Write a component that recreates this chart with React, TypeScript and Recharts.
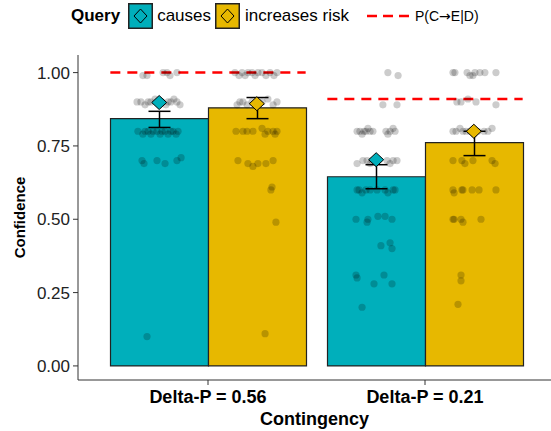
import { ComposedChart, Bar, XAxis, YAxis, Scatter, ErrorBar, ReferenceLine } from "recharts"

const contingencies = ["Delta-P = 0.56", "Delta-P = 0.21"]
const causesMean = [0.843, 0.645]
const causesLow = [0.813, 0.604]
const causesHigh = [0.868, 0.686]
const riskMean = [0.88, 0.761]
const riskLow = [0.843, 0.717]
const riskHigh = [0.915, 0.8]
const causesMarker = [0.898, 0.703]
const riskMarker = [0.894, 0.8]
const pCED = [1.0, 0.91]
const yTicks = [0, 0.25, 0.5, 0.75, 1]

// x position of each contingency on the hidden numeric axis, and the dodge offset
const groupPos = [1, 2]
const dodge = 0.225

// individual responses, jittered: [x on numeric axis, confidence]
const causesPts: number[][] = [
  [0.7, 0.99], [0.719, 0.99], [0.793, 1.0], [0.811, 1.0], [0.825, 0.99], [0.857, 1.0],
  [0.673, 0.9], [0.691, 0.9], [0.71, 0.89], [0.724, 0.9], [0.737, 0.9], [0.756, 0.91], [0.77, 0.9],
  [0.788, 0.9], [0.806, 0.89], [0.816, 0.9], [0.829, 0.9], [0.843, 0.91], [0.857, 0.9], [0.871, 0.89],
  [0.677, 0.8], [0.7, 0.79], [0.71, 0.8], [0.724, 0.8], [0.737, 0.79], [0.747, 0.8], [0.765, 0.8],
  [0.779, 0.79], [0.788, 0.8], [0.802, 0.8], [0.816, 0.79], [0.829, 0.8], [0.839, 0.8], [0.853, 0.79], [0.862, 0.8],
  [0.696, 0.7], [0.705, 0.69], [0.765, 0.7], [0.802, 0.69], [0.857, 0.7], [0.876, 0.71],
  [0.719, 0.1],
  [1.829, 1.0], [1.876, 0.99],
  [1.806, 0.89], [1.871, 0.89],
  [1.687, 0.8], [1.7, 0.8], [1.71, 0.79], [1.719, 0.8], [1.728, 0.8], [1.737, 0.81], [1.747, 0.8],
  [1.76, 0.8], [1.82, 0.8], [1.829, 0.79], [1.839, 0.8], [1.853, 0.81], [1.862, 0.8],
  [1.687, 0.69], [1.714, 0.7], [1.733, 0.7], [1.747, 0.69], [1.756, 0.7], [1.825, 0.7], [1.839, 0.69], [1.853, 0.7], [1.871, 0.7],
  [1.687, 0.6], [1.696, 0.6], [1.71, 0.59], [1.728, 0.6], [1.747, 0.6], [1.779, 0.6], [1.816, 0.6], [1.829, 0.59], [1.853, 0.6], [1.862, 0.6],
  [1.682, 0.5], [1.733, 0.49], [1.737, 0.5], [1.783, 0.51], [1.816, 0.51], [1.848, 0.5],
  [1.797, 0.41], [1.839, 0.42], [1.848, 0.4],
  [1.682, 0.31], [1.687, 0.3], [1.765, 0.28], [1.811, 0.31], [1.848, 0.28],
  [1.71, 0.2],
]

const riskPts: number[][] = [
  [1.124, 1.0], [1.143, 0.99], [1.157, 1.0], [1.171, 0.99], [1.184, 1.0], [1.203, 1.0], [1.217, 0.99],
  [1.23, 1.0], [1.249, 1.0], [1.267, 0.99], [1.286, 1.0], [1.304, 0.99], [1.318, 1.0],
  [1.134, 0.89], [1.147, 0.9], [1.161, 0.9], [1.18, 0.89], [1.203, 0.9], [1.249, 0.9], [1.276, 0.91], [1.3, 0.89], [1.318, 0.9],
  [1.129, 0.8], [1.161, 0.8], [1.18, 0.8], [1.207, 0.8], [1.249, 0.81], [1.263, 0.79], [1.276, 0.8], [1.3, 0.8], [1.309, 0.79], [1.318, 0.8],
  [1.138, 0.7], [1.184, 0.69], [1.207, 0.68], [1.23, 0.69], [1.267, 0.69], [1.3, 0.7],
  [1.295, 0.61], [1.29, 0.6], [1.313, 0.49], [1.263, 0.11],
  [2.129, 1.0], [2.138, 1.0], [2.194, 1.0], [2.207, 0.99], [2.221, 0.99], [2.23, 1.0], [2.253, 1.0], [2.276, 1.0], [2.327, 1.0],
  [2.147, 0.9], [2.166, 0.9], [2.198, 0.91], [2.235, 0.9], [2.327, 0.89],
  [2.129, 0.8], [2.143, 0.8], [2.161, 0.81], [2.175, 0.8], [2.189, 0.8], [2.207, 0.8], [2.226, 0.79], [2.244, 0.8], [2.272, 0.8], [2.29, 0.8], [2.309, 0.81],
  [2.129, 0.7], [2.17, 0.7], [2.184, 0.69], [2.221, 0.7], [2.309, 0.7], [2.323, 0.69],
  [2.129, 0.6], [2.134, 0.59], [2.17, 0.6], [2.175, 0.6], [2.217, 0.6], [2.249, 0.6], [2.327, 0.6],
  [2.129, 0.5], [2.134, 0.5], [2.166, 0.5], [2.175, 0.49], [2.258, 0.5],
  [2.166, 0.31], [2.166, 0.29],
  [2.152, 0.21],
]

const TEAL = "#00AFBB"
const GOLD = "#E7B800"
const FONT = "'Liberation Sans', Arial, Helvetica, sans-serif"

const barData = contingencies.map((c, i) => ({
  contingency: c,
  causes: causesMean[i],
  causesErr: [causesMean[i] - causesLow[i], causesHigh[i] - causesMean[i]],
  risk: riskMean[i],
  riskErr: [riskMean[i] - riskLow[i], riskHigh[i] - riskMean[i]],
}))

const causesDots = causesPts.map(([x, y]) => ({ x, y }))
const riskDots = riskPts.map(([x, y]) => ({ x, y }))
const causesDiamonds = groupPos.map((g, i) => ({ x: g - dodge, y: causesMarker[i] }))
const riskDiamonds = groupPos.map((g, i) => ({ x: g + dodge, y: riskMarker[i] }))

const Dot = (props: any) => <circle cx={props.cx} cy={props.cy} r={3.6} fill="#000" fillOpacity={0.2} />

const makeDiamond = (fill: string) => (props: any) => {
  const { cx, cy } = props
  return (
    <polygon
      points={`${cx},${cy - 7} ${cx + 7.5},${cy} ${cx},${cy + 7} ${cx - 7.5},${cy}`}
      fill={fill}
      stroke="#000"
      strokeWidth={1}
    />
  )
}

function YTitle({ viewBox }: any) {
  const cx = (viewBox?.x ?? 0) + 19
  const cy = (viewBox?.y ?? 55) + (viewBox?.height ?? 325) / 2
  return (
    <text x={cx} y={cy} transform={`rotate(-90 ${cx} ${cy})`} textAnchor="middle" dominantBaseline="central"
      fontFamily={FONT} fontWeight="bold" fontSize={15} fill="#000">
      Confidence
    </text>
  )
}

function XTitle({ viewBox }: any) {
  const cx = (viewBox?.x ?? 78) + (viewBox?.width ?? 473) / 2
  const cy = (viewBox?.y ?? 380) + 39
  return (
    <text x={cx} y={cy} textAnchor="middle" dominantBaseline="central"
      fontFamily={FONT} fontWeight="bold" fontSize={18} fill="#000">
      Contingency
    </text>
  )
}

function KeyBox({ fill }: { fill: string }) {
  return (
    <svg width={25} height={26} style={{ display: "block" }}>
      <rect x={0.75} y={0.75} width={23.5} height={24.5} fill={fill} stroke="#222" strokeWidth={1.5} />
      <polygon points="12.5,6 19,13 12.5,20 6,13" fill={fill} stroke="#000" strokeWidth={1} />
    </svg>
  )
}

function LegendBar() {
  return (
    <div style={{ position: "absolute", left: 0, top: 3, height: 26, display: "flex", alignItems: "center",
      paddingLeft: 71, fontFamily: FONT, color: "#000", whiteSpace: "nowrap" }}>
      <span style={{ fontWeight: "bold", fontSize: 17, marginRight: 8 }}>Query</span>
      <KeyBox fill={TEAL} />
      <span style={{ fontSize: 17, margin: "0 4px" }}>causes</span>
      <KeyBox fill={GOLD} />
      <span style={{ fontSize: 17, marginLeft: 5, marginRight: 18 }}>increases risk</span>
      <svg width={42} height={6} style={{ display: "block" }}>
        <line x1={0} y1={3} x2={42} y2={3} stroke="#FF0000" strokeWidth={2.5} strokeDasharray="10 6" />
      </svg>
      <span style={{ fontSize: 14, marginLeft: 6 }}>
        P(C<span style={{ fontFamily: "'DejaVu Sans', sans-serif", fontSize: 14 }}>→</span>E|D)
      </span>
    </div>
  )
}

export default function App() {
  return (
    <div style={{ position: "absolute", left: 0, top: 0, width: 551, height: 431, background: "#fff" }}>
      <ComposedChart width={551} height={431} data={barData} margin={{ top: 55, right: 0, bottom: 0, left: 0 }}
        barCategoryGap={11} barGap={0}>
        <XAxis dataKey="contingency" type="category" padding={{ left: 21.5, right: 17.5 }}
          height={51} tickSize={5} tickMargin={5} stroke="#333"
          tick={{ fontFamily: FONT, fontWeight: "bold", fontSize: 18, fill: "#000" }}
          label={<XTitle />} />
        <XAxis xAxisId="jx" type="number" dataKey="x" domain={[0.5, 2.5]} allowDataOverflow
          padding={{ left: 21.5, right: 17.5 }} hide />
        <YAxis type="number" domain={[-0.048, 1.06]} allowDataOverflow ticks={yTicks} width={78}
          tickSize={5} tickMargin={3} stroke="#333" tickFormatter={(v: number) => v.toFixed(2)}
          tick={{ fontFamily: FONT, fontSize: 17, fill: "#222" }} label={<YTitle />} />
        <Bar dataKey="causes" fill={TEAL} stroke="#222" strokeWidth={1.2} isAnimationActive={false}>
          <ErrorBar dataKey="causesErr" width={11} stroke="#000" strokeWidth={1.5} />
        </Bar>
        <Bar dataKey="risk" fill={GOLD} stroke="#222" strokeWidth={1.2} isAnimationActive={false}>
          <ErrorBar dataKey="riskErr" width={11} stroke="#000" strokeWidth={1.5} />
        </Bar>
        <Scatter xAxisId="jx" data={causesDots} dataKey="y" shape={Dot} isAnimationActive={false} />
        <Scatter xAxisId="jx" data={riskDots} dataKey="y" shape={Dot} isAnimationActive={false} />
        <Scatter xAxisId="jx" data={causesDiamonds} dataKey="y" shape={makeDiamond(TEAL)} isAnimationActive={false} />
        <Scatter xAxisId="jx" data={riskDiamonds} dataKey="y" shape={makeDiamond(GOLD)} isAnimationActive={false} />
        {groupPos.map((g, i) => (
          <ReferenceLine key={i} xAxisId="jx" stroke="#FF0000" strokeWidth={2.5} strokeDasharray="10 7"
            segment={[{ x: g - 0.45, y: pCED[i] }, { x: g + 0.45, y: pCED[i] }]} />
        ))}
      </ComposedChart>
      <LegendBar />
    </div>
  )
}
